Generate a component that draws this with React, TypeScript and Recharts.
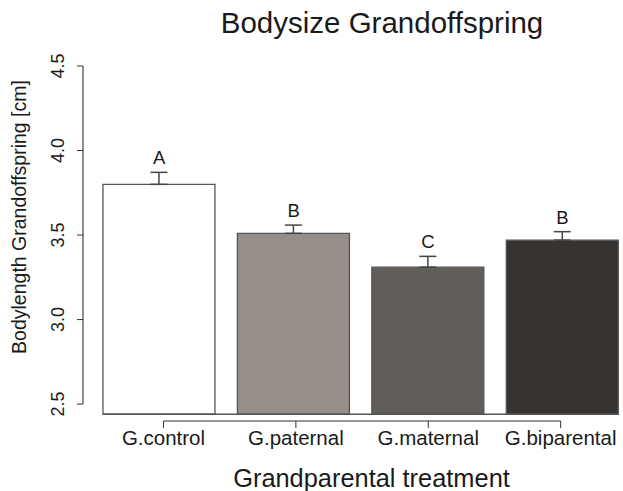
import React from 'react';
import { ComposedChart, Bar, Cell, XAxis, YAxis, ErrorBar, Line, LabelList, ReferenceLine } from 'recharts';

const categories = ['G.control', 'G.paternal', 'G.maternal', 'G.biparental'];
const means = [3.80, 3.51, 3.31, 3.47];
const errors = [0.071, 0.049, 0.064, 0.05];
const letters = ['A', 'B', 'C', 'B'];
const fills = ['#ffffff', '#968e89', '#615e5a', '#373331'];
const yTicks = [2.5, 3.0, 3.5, 4.0, 4.5];
const barBase = 2.44;

const chartTitle = 'Bodysize Grandoffspring';
const xTitle = 'Grandparental treatment';
const yTitle = 'Bodylength Grandoffspring [cm]';

// R barplot layout: width 1, space 0.2
const data = categories.map((c, i) => ({
  name: c,
  idx: i + 1,
  pos: 0.2 + i * 1.2 + 0.5,
  range: [barBase, means[i]],
  err: [0, errors[i]],
  top: means[i] + errors[i],
  letter: letters[i],
}));

const FONT = '"Liberation Sans", Arial, Helvetica, sans-serif';
const INK = '#1a1a1a';

const YTick = (props: any) => {
  const { x, y, payload } = props;
  return (
    <text
      transform={`translate(${x - 11.5},${y}) rotate(-90)`}
      textAnchor="middle"
      fontSize={18}
      fontFamily={FONT}
      fill={INK}
    >
      {Number(payload.value).toFixed(1)}
    </text>
  );
};

export default function App() {
  return (
    <div style={{ position: 'absolute', left: 0, top: 0, width: 623, height: 491, background: '#fff' }}>
      <ComposedChart
        width={623}
        height={491}
        data={data}
        margin={{ top: 52.5, right: 0, bottom: 40, left: 0 }}
        style={{ fontFamily: FONT }}
      >
        <XAxis
          xAxisId="lab"
          type="number"
          dataKey="idx"
          domain={[0.392, 4.471]}
          allowDataOverflow
          ticks={[1, 2, 3, 4]}
          interval={0}
          tickFormatter={(v: number) => categories[v - 1]}
          axisLine={false}
          tickLine={{ stroke: '#333', strokeWidth: 1 }}
          tickSize={7}
          tickMargin={2.4}
          height={30}
          tick={{ fontSize: 20.5, fill: INK, fontFamily: FONT }}
        />
        <XAxis xAxisId="bar" type="number" dataKey="pos" domain={[0.02, 4.84]} allowDataOverflow hide height={0} />
        <YAxis
          type="number"
          domain={[2.4, 4.58]}
          allowDataOverflow
          ticks={yTicks}
          interval={0}
          width={83}
          axisLine={false}
          tickLine={{ stroke: '#333', strokeWidth: 1 }}
          tickSize={6}
          tick={<YTick />}
        />
        <ReferenceLine
          xAxisId="bar"
          segment={[{ x: 0.02, y: 2.5 }, { x: 0.02, y: 4.5 }]}
          stroke="#333"
          strokeWidth={1.1}
          ifOverflow="visible"
        />
        <ReferenceLine
          xAxisId="lab"
          segment={[{ x: 1, y: 2.4 }, { x: 4, y: 2.4 }]}
          stroke="#333"
          strokeWidth={1.1}
          ifOverflow="visible"
        />
        <Line
          xAxisId="lab"
          dataKey="top"
          stroke="none"
          dot={false}
          activeDot={false}
          isAnimationActive={false}
          legendType="none"
        />
        <Bar xAxisId="bar" dataKey="range" barSize={112} stroke="#555" strokeWidth={1.3} isAnimationActive={false}>
          {data.map((d, i) => (
            <Cell key={d.name} fill={fills[i]} />
          ))}
          <ErrorBar dataKey="err" direction="y" width={8.5} stroke="#444" strokeWidth={1.5} />
        </Bar>
        <ReferenceLine
          xAxisId="bar"
          segment={[{ x: 0.2, y: barBase }, { x: 4.8, y: barBase }]}
          stroke="#555"
          strokeWidth={1.3}
          ifOverflow="visible"
        />
        <Line
          xAxisId="bar"
          dataKey="top"
          stroke="none"
          dot={false}
          activeDot={false}
          isAnimationActive={false}
        >
          <LabelList dataKey="letter" position="top" offset={8} fontSize={18.5} fill={INK} fontFamily={FONT} />
        </Line>
      </ComposedChart>
      <svg
        width={623}
        height={491}
        style={{ position: 'absolute', left: 0, top: 0, pointerEvents: 'none' }}
      >
        <text x={382} y={33} textAnchor="middle" fontSize={29.5} fontFamily={FONT} fill={INK}>
          {chartTitle}
        </text>
        <text
          transform="translate(26,217) rotate(-90)"
          textAnchor="middle"
          fontSize={19.5}
          fontFamily={FONT}
          fill={INK}
        >
          {yTitle}
        </text>
        <text x={371.5} y={487} textAnchor="middle" fontSize={25.4} fontFamily={FONT} fill={INK}>
          {xTitle}
        </text>
      </svg>
    </div>
  );
}
